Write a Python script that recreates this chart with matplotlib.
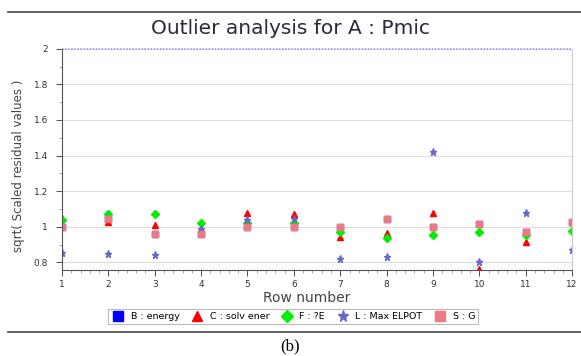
import matplotlib
matplotlib.use("Agg")
import matplotlib.pyplot as plt
from matplotlib.ticker import MultipleLocator

rows = [1, 2, 3, 4, 5, 6, 7, 8, 9, 10, 11, 12]
energy = [1.0, 1.045, 0.957, 0.957, 1.0, 1.0, 1.0, 1.041, 1.0, 1.017, 0.972, 1.028]
solv_ener = [1.05, 1.026, 1.009, 0.99, 1.075, 1.071, 0.944, 0.964, 1.079, 0.76, 0.916, 1.028]
dE = [1.037, 1.073, 1.069, 1.02, 1.02, 1.02, 0.968, 0.936, 0.951, 0.968, 0.955, 0.975]
max_elpot = [0.852, 0.848, 0.843, 0.985, 1.037, 1.041, 0.818, 0.828, 1.417, 0.803, 1.077, 0.867]
g_vals = [1.0, 1.045, 0.957, 0.957, 1.0, 1.0, 1.0, 1.041, 1.0, 1.017, 0.972, 1.028]
threshold = 2.0

fig = plt.figure(figsize=(5.81, 3.56), dpi=100)
ax = fig.add_axes([0.1067, 0.2416, 0.878, 0.6216])

ax.plot(rows, energy, ls="none", marker="s", ms=4.2, color="#0000ff", label="B : energy")
ax.plot(rows, solv_ener, ls="none", marker="^", ms=4.2, color="#ff0000", label="C : solv ener")
ax.plot(rows, dE, ls="none", marker="D", ms=3.8, color="#00ee00", label="F : ?E")
ax.plot(rows, max_elpot, ls="none", marker="*", ms=5.2, color="#6666cc", label="L : Max ELPOT")
ax.plot(rows, g_vals, ls="none", marker="s", ms=4.2, color="#f07880", label="S : G")
ax.axhline(threshold, color="#8c8cff", ls=(0, (1, 1)), lw=1.1, clip_on=False)

ax.set_xlim(1, 12)
ax.set_ylim(0.757, 2.0)
ax.xaxis.set_major_locator(MultipleLocator(1))
ax.xaxis.set_minor_locator(MultipleLocator(0.2))
ax.yaxis.set_minor_locator(MultipleLocator(0.1))
ax.set_yticks([0.8, 1.0, 1.2, 1.4, 1.6, 1.8, 2.0])
ax.set_yticklabels(["0.8", "1", "1.2", "1.4", "1.6", "1.8", "2"])
ax.tick_params(labelsize=6.5, colors="#333333", length=4, width=0.6)
ax.tick_params(which="minor", length=2, width=0.5, color="#888888")
ax.tick_params(axis="y", pad=6)
ax.grid(axis="y", color="#dddddd", lw=0.8)
ax.set_axisbelow(True)

ax.spines["top"].set_visible(False)
ax.spines["right"].set_color("#cccccc")
ax.spines["left"].set_color("#555555")
ax.spines["bottom"].set_color("#555555")

fig.text(0.5, 0.921, "Outlier analysis for A : Pmic", ha="center", va="center",
         fontsize=14.5, color="#2a2a3a")
ax.set_xlabel("Row number", fontsize=10, color="#444444")
ax.xaxis.set_label_coords(0.48, -0.095)
ax.set_ylabel("sqrt( Scaled residual values )", fontsize=8.5, color="#444444")
ax.yaxis.set_label_coords(-0.073, 0.47)

leg = fig.legend(loc="center", bbox_to_anchor=(0.505, 0.111), ncol=5, fontsize=6.8,
                 frameon=True, fancybox=False, edgecolor="#aaaaaa", handlelength=1.3,
                 handletextpad=0.7, columnspacing=1.2, borderpad=0.35, markerscale=1.6)
leg.get_frame().set_linewidth(0.8)

# rules and caption
fig.add_artist(plt.Line2D([0.014, 1.0], [0.966, 0.966], color="#444444", lw=1.2))
fig.add_artist(plt.Line2D([0.014, 1.0], [0.067, 0.067], color="#444444", lw=1.2))
fig.text(0.5, 0.028, "(b)", ha="center", va="center", fontsize=12, family="Liberation Serif")

fig.savefig("out.png", dpi=100)
